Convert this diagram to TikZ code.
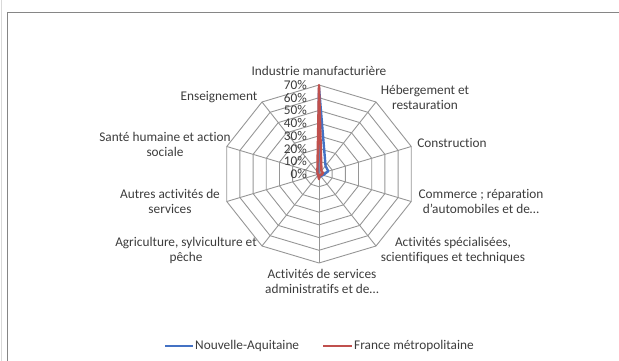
\documentclass[tikz,border=0pt]{standalone}
\usepackage{fontspec}
\setmainfont{Carlito}[Ligatures=NoCommon]
\usetikzlibrary{positioning}
\definecolor{gridgray}{RGB}{150,150,150}
\definecolor{txtgray}{RGB}{60,60,60}
\definecolor{frame}{RGB}{134,134,134}
\definecolor{naBlue}{RGB}{68,114,196}
\definecolor{frRed}{RGB}{192,80,77}
\tikzset{
  lbl/.style={text=txtgray, font=\fontsize{13.3}{15}\selectfont, align=center, inner sep=0pt},
  pct/.style={lbl, anchor=east},
  serie/.style={line width=2.4pt, line join=round}
}

\begin{document}
\begin{tikzpicture}[x=1pt,y=1pt]
	\useasboundingbox (0,0) rectangle (619,361);
	\draw[gray!30] (1,0) -- (1,361);
	\draw[frame] (7,0) -- (7,349) -- (619,349);
	% radar grid and series
	\begin{scope}[shift={(319,187)}, xscale=97/70, yscale=89/70]
		\foreach \r in {10,20,...,70}
			\draw[gridgray, line width=0.9pt] (90:\r) \foreach \i in {1,...,9}{ -- (90-36*\i:\r)} -- cycle;
		\foreach \i in {0,...,9}
			\draw[gridgray, line width=0.9pt] (0,0) -- (90-36*\i:70);
		\draw[serie, naBlue] (90:68) -- (54:8) -- (18:7) -- (-18:3) -- (-54:2) -- (-90:3) -- (-126:1) -- (-162:1) -- (162:1) -- (126:1) -- cycle;
		\draw[serie, frRed] (90:70) -- (54:3) -- (18:3) -- (-18:2) -- (-54:1) -- (-90:4) -- (-126:1) -- (-162:1) -- (162:1) -- (126:2) -- cycle;
	\end{scope}
	% axis values
	\foreach \v in {0,10,...,70}
		\node[pct] (p\v) at (307, 187+\v*89/70) {\v\%};
	% categories
	\node[lbl] (indus) at (319, 290) {Industrie manufacturière};
	\node[lbl] (heberg) at (425, 264) {Hébergement et\\restauration};
	\node[lbl] (constr) at (452, 218) {Construction};
	\node[lbl] (commerce) at (481, 160) {Commerce ; réparation\\d'automobiles et de…};
	\node[lbl] (specia) at (453, 111) {Activités spécialisées,\\scientifiques et techniques};
	\node[lbl] (admin) at (322, 80) {Activités de services\\administratifs et de…};
	\node[lbl] (agri) at (186, 111) {Agriculture, sylviculture et\\pêche};
	\node[lbl] (autres) at (170, 160) {Autres activités de\\services};
	\node[lbl] (sante) at (165, 217) {Santé humaine et action\\sociale};
	\node[lbl] (enseign) at (219, 264) {Enseignement};
	% legend
	\coordinate (naA) at (165,15);
	\coordinate (naB) at (193,15);
	\coordinate (frA) at (323,15);
	\coordinate (frB) at (352,15);
	\draw[naBlue, line width=2.2pt] (naA) -- (naB);
	\draw[frRed, line width=2.2pt] (frA) -- (frB);
	\node[lbl, anchor=west] (naLeg) at (195,15) {Nouvelle-Aquitaine};
	\node[lbl, anchor=west] (frLeg) at (354,15) {France métropolitaine};
\end{tikzpicture}
\end{document}
